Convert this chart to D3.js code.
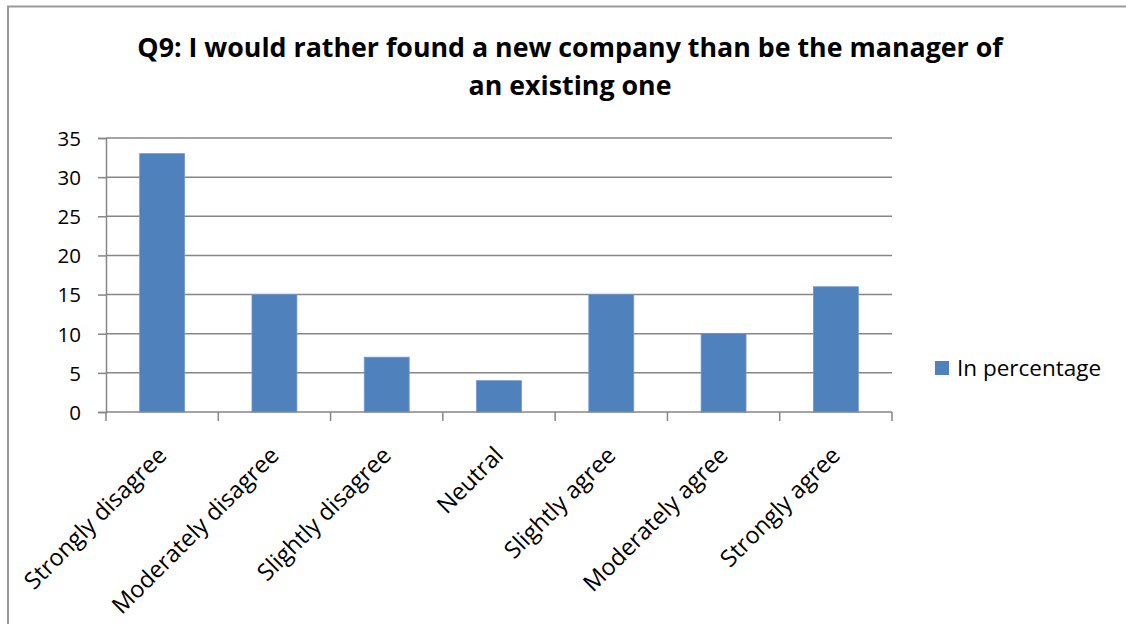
<!DOCTYPE html>
<html>
<head>
<meta charset="utf-8">
<script src="https://cdn.jsdelivr.net/npm/d3@7"></script>
<style>
  html, body { margin: 0; padding: 0; background: #fff; }
  svg { display: block; font-family: "Open Sans", "DejaVu Sans", sans-serif; }
</style>
</head>
<body>
<svg id="chart" width="1126" height="624"></svg>
<script>
// Survey responses, share of respondents per answer
const categories = [
  "Strongly disagree", "Moderately disagree", "Slightly disagree", "Neutral",
  "Slightly agree", "Moderately agree", "Strongly agree"
];
const percentages = [33, 15, 7, 4, 15, 10, 16];
const yTicks = [0, 5, 10, 15, 20, 25, 30, 35];
const seriesName = "In percentage";
const titleLines = [
  "Q9: I would rather found a new company than be the manager of",
  "an existing one"
];

const svg = d3.select("#chart");
const W = 1126, H = 624;
const plot = { left: 106, right: 892, top: 138, bottom: 412 };
const barColor = "#4F81BD";
const gridColor = "#868686";

// outer frame (top and left edges visible)
svg.append("path")
  .attr("d", `M8,${H} L8,6.5 L${W},6.5`)
  .attr("fill", "none")
  .attr("stroke", "#9a9a9a")
  .attr("stroke-width", 2);

// title, two centred lines fitted to width
const titleY = [57, 95];
const title = svg.append("g");
titleLines.forEach((t, i) => {
  title.append("text")
    .attr("x", 570)
    .attr("y", titleY[i])
    .attr("text-anchor", "middle")
    .attr("font-weight", "bold")
    .attr("font-size", 23)
    .attr("fill", "#000")
    .text(t);
});
const first = title.select("text").node();
const fitSize = 23 * 866 / first.getComputedTextLength();
title.selectAll("text").attr("font-size", fitSize);

const x = d3.scaleBand()
  .domain(categories)
  .range([plot.left, plot.right])
  .paddingInner(0.6)
  .paddingOuter(0.3);

const y = d3.scaleLinear()
  .domain([0, 35])
  .range([plot.bottom, plot.top]);

// horizontal gridlines
svg.append("g")
  .selectAll("line")
  .data(yTicks.filter(d => d > 0))
  .join("line")
  .attr("x1", plot.left).attr("x2", plot.right)
  .attr("y1", d => y(d)).attr("y2", d => y(d))
  .attr("stroke", gridColor)
  .attr("stroke-width", 1.5);

// bars
svg.append("g")
  .selectAll("rect")
  .data(percentages)
  .join("rect")
  .attr("x", (d, i) => x(categories[i]))
  .attr("y", d => y(d))
  .attr("width", x.bandwidth())
  .attr("height", d => y(0) - y(d))
  .attr("fill", barColor)
  .attr("stroke", "#7097cc")
  .attr("stroke-width", 0.8);

// value axis
const yAxis = d3.axisLeft(y).tickValues(yTicks).tickSize(8).tickPadding(17);
const ya = svg.append("g")
  .attr("transform", `translate(${plot.left},0)`)
  .call(yAxis);
ya.attr("font-family", null).attr("font-size", null);
ya.select(".domain").attr("stroke", gridColor).attr("stroke-width", 1.5);
ya.selectAll(".tick line").attr("stroke", gridColor).attr("stroke-width", 1.5);
ya.selectAll(".tick text")
  .attr("font-size", 20.5)
  .attr("fill", "#000")
  .attr("dy", "0.36em");

// category axis: baseline plus tick marks at category boundaries
const step = x.step();
const boundaries = categories.map(c => x(c) + x.bandwidth() / 2 - step / 2)
  .concat([x(categories[categories.length - 1]) + x.bandwidth() / 2 + step / 2]);
const xa = svg.append("g");
xa.append("line")
  .attr("x1", plot.left).attr("x2", plot.right)
  .attr("y1", y(0)).attr("y2", y(0))
  .attr("stroke", gridColor).attr("stroke-width", 1.5);
xa.selectAll("line.tk")
  .data(boundaries)
  .join("line")
  .attr("class", "tk")
  .attr("x1", d => d).attr("x2", d => d)
  .attr("y1", y(0)).attr("y2", y(0) + 9)
  .attr("stroke", gridColor).attr("stroke-width", 1.5);

// rotated category labels
xa.selectAll("text")
  .data(categories)
  .join("text")
  .attr("transform", d => `translate(${x(d) + x.bandwidth() / 2},${y(0) + 39}) rotate(-45)`)
  .attr("text-anchor", "end")
  .attr("dy", "0.35em")
  .attr("font-size", 23.5)
  .attr("fill", "#000")
  .text(d => d);

// legend
const lg = svg.append("g");
lg.append("rect")
  .attr("x", 935).attr("y", 361)
  .attr("width", 14).attr("height", 14)
  .attr("fill", barColor);
lg.append("text")
  .attr("x", 957).attr("y", 376)
  .attr("font-size", 22.5)
  .attr("fill", "#000")
  .text(seriesName);
</script>
</body>
</html>
